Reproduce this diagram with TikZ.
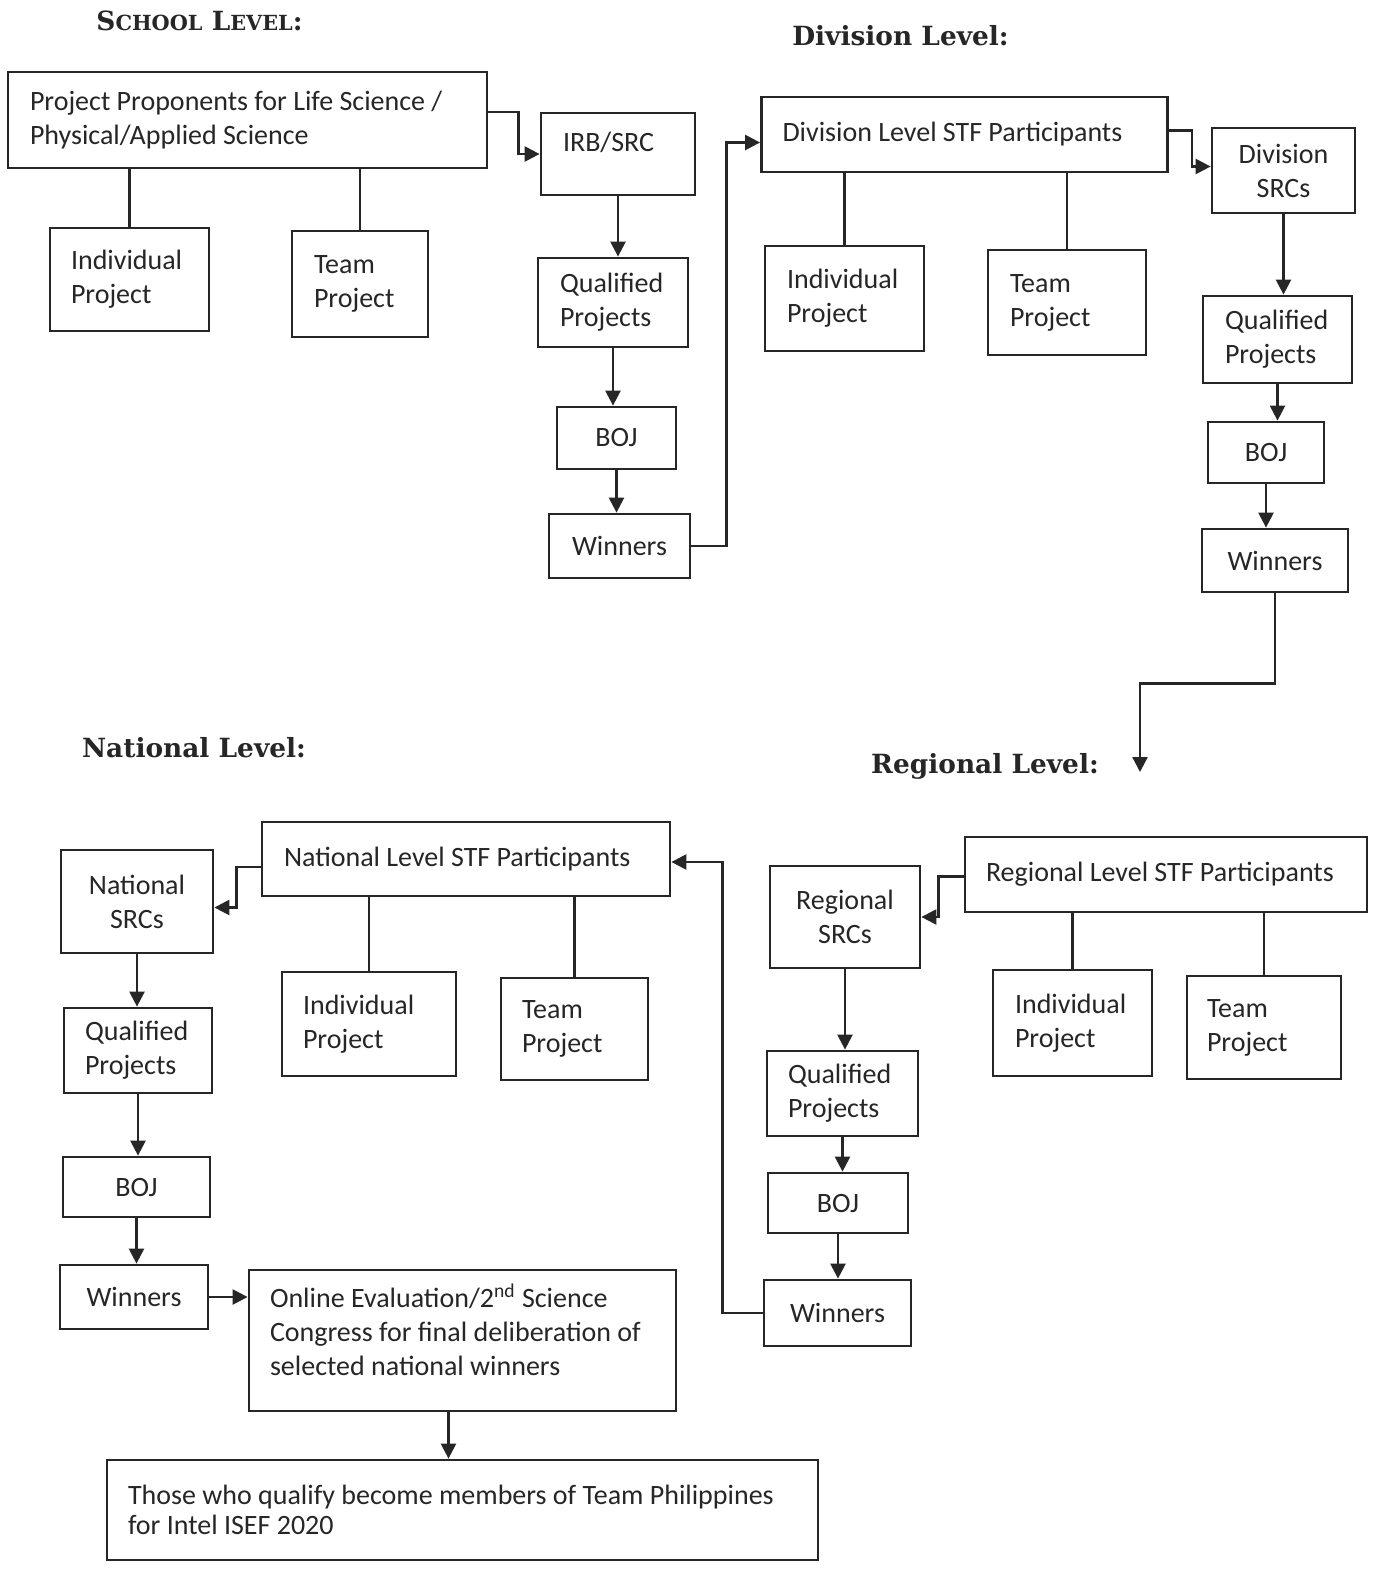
\documentclass[tikz,border=0pt]{standalone}
\usepackage{fontspec}
\newfontfamily\calfont{Carlito}
\newfontfamily\headfam{DejaVu Serif}
\usetikzlibrary{arrows.meta}
\definecolor{ink}{HTML}{262626}
\begin{document}
\begin{tikzpicture}[x=0.5pt,y=-0.5pt,
  txt/.style={font={\calfont\fontsize{14}{17}\selectfont\hyphenpenalty=10000\relax}, text=ink},
  box/.style={txt, draw=ink, line width=1.4pt, rectangle, inner ysep=0pt, align=flush left},
  cbox/.style={txt, draw=ink, line width=1.4pt, rectangle, inner ysep=0pt, inner xsep=0pt, align=flush center},
  geo/.style n args={4}{inner xsep=#1pt, text width=#2pt, minimum height=#3pt},
  cgeo/.style 2 args={text width=#1pt, minimum height=#2pt},
  link/.style={draw=ink, line width=1.2pt},
  arr/.style={link, -{Triangle[length=7.5pt,width=7.5pt]}},
  head/.style={font={\headfam\bfseries\fontsize{13.2}{15}\selectfont}, text=ink, inner sep=0pt}
]
\useasboundingbox[fill=white] (0,0) rectangle (1380,1569);

% headings
\node[head] (hschool) at (199.5,21) {S{\fontsize{10.4}{12}\selectfont CHOOL} L{\fontsize{10.4}{12}\selectfont EVEL}:};
\node[head] (hdiv) at (900.5,36) {Division Level:};
\node[head] (hnat) at (194,748) {National Level:};
\node[head] (hreg) at (985,766) {Regional Level:};

% School level
\node[box, geo={11}{217.5}{48}{}] (prop) at (247.5,120) {Project Proponents for Life Science /\\Physical/Applied Science};
\node[box, geo={10.5}{58.5}{51.5}{}] (sind) at (129.5,279.5) {Individual\\Project};
\node[box, geo={11}{46}{53}{}] (steam) at (360,284) {Team\\Project};
\node[box, geo={11}{55}{41}{}] (irb) at (618,154) {\raisebox{12pt}{IRB/SRC}};
\node[box, geo={11}{53}{44.5}{}] (sq) at (613,302.5) {Qualified\\Projects};
\node[cbox, cgeo={59.5}{31}] (sboj) at (616.5,438) {BOJ};
\node[cbox, cgeo={70.5}{32}] (swin) at (619.5,546) {Winners};

% Division level
\node[box, geo={10.5}{182}{37.5}{}] (dstf) at (964.5,134.5) {Division Level STF Participants};
\node[box, geo={11}{57.5}{52.5}{}] (dind) at (844.5,298.5) {Individual\\Project};
\node[box, geo={11}{57}{52.5}{}] (dteam) at (1067,302.5) {Team\\Project};
\node[cbox, cgeo={71.5}{42.5}] (dsrc) at (1283.5,170.5) {Division\\SRCs};
\node[box, geo={11}{52.5}{43.5}{}] (dq) at (1277.5,339.5) {Qualified\\Projects};
\node[cbox, cgeo={58}{30.5}] (dboj) at (1266,452.5) {BOJ};
\node[cbox, cgeo={73}{31.5}] (dwin) at (1275,560.5) {Winners};

% Regional level
\node[box, geo={10.5}{180}{37.5}{}] (rstf) at (1166,874.5) {Regional Level STF Participants};
\node[cbox, cgeo={75}{51}] (rsrc) at (845,917) {Regional\\SRCs};
\node[box, geo={11}{57.5}{53}{}] (rind) at (1072.5,1023) {Individual\\Project};
\node[box, geo={10}{57}{51.5}{}] (rteam) at (1264,1027.5) {Team\\Project};
\node[box, geo={10.5}{54.5}{42.5}{}] (rq) at (842.5,1093.5) {Qualified\\Projects};
\node[cbox, cgeo={70}{30}] (rboj) at (838,1203) {BOJ};
\node[cbox, cgeo={73.5}{33}] (rwin) at (837.5,1313) {Winners};

% National level
\node[box, geo={11}{182}{37}{}] (nstf) at (466,859) {National Level STF Participants};
\node[cbox, cgeo={76}{51.5}] (nsrc) at (137,901.5) {National\\SRCs};
\node[box, geo={10.5}{66}{52}{}] (nind) at (369,1024) {Individual\\Project};
\node[box, geo={10.5}{52.5}{51}{}] (nteam) at (574.5,1029) {Team\\Project};
\node[box, geo={10.5}{53}{42.5}{}] (nq) at (138,1050.5) {Qualified\\Projects};
\node[cbox, cgeo={73.5}{30}] (nboj) at (136.5,1187) {BOJ};
\node[cbox, cgeo={74}{32}] (nwin) at (134,1297) {Winners};
\node[box, geo={10.5}{192.5}{70.5}{}] (online) at (462.5,1340.5) {Online Evaluation/2\textsuperscript{nd} Science\\Congress for final deliberation of\\selected national winners\\[-6pt]\mbox{}};
\node[box, geo={10.5}{334.5}{50}{}] (final) at (462.5,1510) {Those who qualify become members of Team Philippines\\[-2pt]for Intel ISEF 2020};

\coordinate (regend) at (1140,772);

% School connectors
\draw[link] (prop.south -| sind.north) -- (sind.north);
\draw[link] (prop.south -| steam.north) -- (steam.north);
\draw[arr] ([yshift=4pt]prop.east) -- ++(30,0) |- (irb.west);
\draw[arr] (irb.south) -- (irb.south |- sq.north);
\draw[arr] (sq.south) -- (sq.south |- sboj.north);
\draw[arr] (sboj.south) -- (sboj.south |- swin.north);
\draw[arr] (swin.east) -- ++(35,0) |- ([yshift=-4pt]dstf.west);

% Division connectors
\draw[link] (dstf.south -| dind.north) -- (dind.north);
\draw[link] (dstf.south -| dteam.north) -- (dteam.north);
\draw[arr] ([yshift=2pt]dstf.east) -- ++(23,0) |- ([yshift=2pt]dsrc.west);
\draw[arr] (dsrc.south) -- (dsrc.south |- dq.north);
\draw[arr] (dq.south) -- (dq.south |- dboj.north);
\draw[arr] (dboj.south) -- (dboj.south |- dwin.north);
\draw[arr] (dwin.south) -- ++(0,90) -| (regend);

% Regional connectors
\draw[arr] ([yshift=-1pt]rstf.west) -- ++(-25,0) |- (rsrc.east);
\draw[link] (rstf.south -| rind.north) -- (rind.north);
\draw[link] (rstf.south -| rteam.north) -- (rteam.north);
\draw[arr] (rsrc.south) -- (rsrc.south |- rq.north);
\draw[arr] (rq.south) -- (rq.south |- rboj.north);
\draw[arr] (rboj.south) -- (rboj.south |- rwin.north);
\draw[arr] (rwin.west) -- ++(-40,0) |- ([yshift=-1.5pt]nstf.east);

% National connectors
\draw[arr] ([yshift=-4pt]nstf.west) -- ++(-24,0) |- ([yshift=-3pt]nsrc.east);
\draw[link] (nstf.south -| nind.north) -- (nind.north);
\draw[link] (nstf.south -| nteam.north) -- (nteam.north);
\draw[arr] (nsrc.south) -- (nsrc.south |- nq.north);
\draw[arr] (nq.south) -- (nq.south |- nboj.north);
\draw[arr] (nboj.south) -- (nboj.south |- nwin.north);
\draw[arr] (nwin.east) -- (nwin.east -| online.west);
\draw[arr] ([xshift=-7pt]online.south) -- ([xshift=-7pt]online.south |- final.north);
\end{tikzpicture}
\end{document}
